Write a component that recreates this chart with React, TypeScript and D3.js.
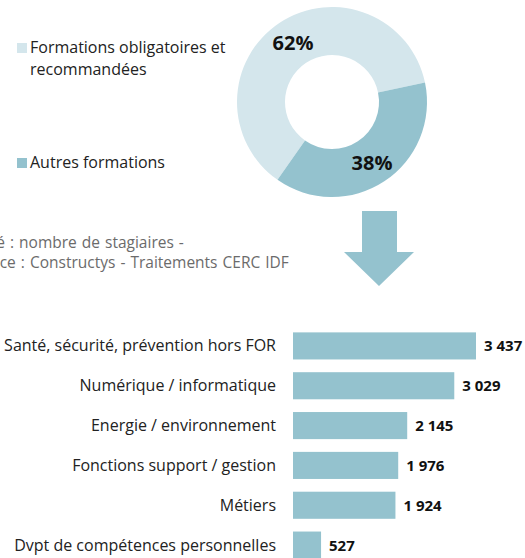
import React, { useRef, useEffect } from "react";
import * as d3 from "d3";

// donut data
const shareLabels = ["Formations obligatoires et recommandées", "Autres formations"];
const shareValues = [62, 38];

// bar data
const categories = [
  "Santé, sécurité, prévention hors FOR",
  "Numérique / informatique",
  "Energie / environnement",
  "Fonctions support / gestion",
  "Métiers",
  "Dvpt de compétences personnelles",
];
const trainees = [3437, 3029, 2145, 1976, 1924, 527];

const noteLines = [
  "Unité : nombre de stagiaires -",
  "Source : Constructys - Traitements CERC IDF",
];

const LIGHT = "#d4e6ec";
const DARK = "#94c2ce";
const FONT = "'Open Sans', sans-serif";

const App = () => {
  const ref = useRef<SVGSVGElement>(null);

  useEffect(() => {
    const svg = d3.select(ref.current);
    svg.selectAll("*").remove();

    const width = 525;
    const height = 558;
    svg.attr("width", width).attr("height", height).style("font-family", FONT);

    // donut
    const cx = 332;
    const cy = 102;
    const pie = d3
      .pie<number>()
      .sort(null)
      .startAngle((-145 * Math.PI) / 180)
      .endAngle((215 * Math.PI) / 180);
    const arc = d3.arc<d3.PieArcDatum<number>>().innerRadius(47).outerRadius(95);
    const colors = [LIGHT, DARK];

    const donut = svg.append("g").attr("transform", `translate(${cx},${cy})`);
    donut
      .selectAll("path")
      .data(pie(shareValues))
      .join("path")
      .attr("d", arc)
      .attr("fill", (d, i) => colors[i]);

    // percent labels, placed by hand like the original
    const labelOffsets = [
      [-39, -59],
      [40, 61],
    ];
    donut
      .selectAll("text")
      .data(pie(shareValues))
      .join("text")
      .attr("x", (d, i) => labelOffsets[i][0])
      .attr("y", (d, i) => labelOffsets[i][1] + 7)
      .attr("text-anchor", "middle")
      .attr("font-size", 20)
      .attr("font-weight", 700)
      .attr("fill", "#111")
      .text((d) => `${d.data}%`);

    // legend
    const legendRows = [
      { y: 53, lines: ["Formations obligatoires et", "recommandées"] },
      { y: 168, lines: [shareLabels[1]] },
    ];
    legendRows.forEach((row, i) => {
      svg
        .append("rect")
        .attr("x", 17)
        .attr("y", row.y - 10)
        .attr("width", 10)
        .attr("height", 10)
        .attr("fill", colors[i]);
      row.lines.forEach((line, j) => {
        svg
          .append("text")
          .attr("x", 30)
          .attr("y", row.y + j * 22)
          .attr("font-size", 16)
          .attr("fill", "#222")
          .text(line);
      });
    });

    // note (starts off the left edge in the original)
    noteLines.forEach((line, i) => {
      svg
        .append("text")
        .attr("x", -34)
        .attr("y", 248 + i * 20)
        .attr("font-size", 15.5)
        .attr("word-spacing", 1)
        .attr("fill", "#6b6b6b")
        .text(line);
    });

    // arrow
    const arrow = d3.path();
    arrow.moveTo(362, 211);
    arrow.lineTo(397, 211);
    arrow.lineTo(397, 252);
    arrow.lineTo(414, 252);
    arrow.lineTo(379, 286);
    arrow.lineTo(344, 252);
    arrow.lineTo(362, 252);
    arrow.closePath();
    svg.append("path").attr("d", arrow.toString()).attr("fill", DARK);

    // bars
    const xScale = d3.scaleLinear().domain([0, 3437]).range([293, 476]);
    const yScale = d3
      .scaleBand()
      .domain(categories)
      .range([326, 565])
      .paddingInner(0.32)
      .paddingOuter(0.16);

    svg
      .selectAll("rect.bar")
      .data(trainees)
      .join("rect")
      .attr("class", "bar")
      .attr("x", xScale(0))
      .attr("y", (d, i) => yScale(categories[i]))
      .attr("width", (d) => xScale(d) - xScale(0))
      .attr("height", yScale.bandwidth())
      .attr("fill", DARK);

    const fmt = (v: number) => d3.format(",")(v).replace(/,/g, " ");

    svg
      .selectAll("text.cat")
      .data(categories)
      .join("text")
      .attr("class", "cat")
      .attr("x", 276)
      .attr("y", (d) => yScale(d) + yScale.bandwidth() / 2 + 5.5)
      .attr("text-anchor", "end")
      .attr("font-size", 16)
      .attr("fill", "#222")
      .text((d) => d);

    svg
      .selectAll("text.val")
      .data(trainees)
      .join("text")
      .attr("class", "val")
      .attr("x", (d) => xScale(d) + 8)
      .attr("y", (d, i) => yScale(categories[i]) + yScale.bandwidth() / 2 + 5.5)
      .attr("font-size", 15)
      .attr("font-weight", 700)
      .attr("fill", "#111")
      .attr("xml:space", "preserve")
      .text((d) => fmt(d));
  }, []);

  return <svg ref={ref} style={{ position: "absolute", left: 0, top: 0 }}></svg>;
};

export default App;
